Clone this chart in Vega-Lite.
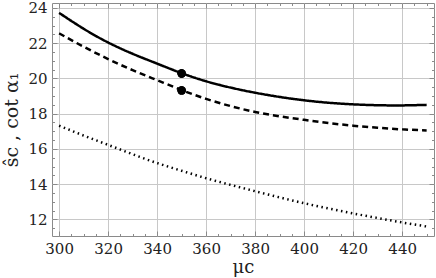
{
  "$schema": "https://vega.github.io/schema/vega-lite/v6.json",
  "width": 382,
  "height": 233,
  "autosize": {"type": "none"},
  "padding": {"left": 52, "top": 3, "right": 2, "bottom": 42},
  "background": "white",
  "config": {
    "font": "DejaVu Serif",
    "view": {"stroke": "#8a8a8a", "strokeWidth": 1},
    "axis": {
      "labelColor": "#222222",
      "titleColor": "#222222",
      "titleFontWeight": "normal",
      "domain": false,
      "tickColor": "#8a8a8a",
      "gridColor": "#c8c8c8",
      "gridWidth": 1
    }
  },
  "datasets": {
    "curves": [
      {"mu": 300, "v": 23.72, "s": "solid"},
      {"mu": 310, "v": 22.82, "s": "solid"},
      {"mu": 320, "v": 22.04, "s": "solid"},
      {"mu": 330, "v": 21.4, "s": "solid"},
      {"mu": 340, "v": 20.84, "s": "solid"},
      {"mu": 350, "v": 20.3, "s": "solid"},
      {"mu": 360, "v": 19.84, "s": "solid"},
      {"mu": 370, "v": 19.48, "s": "solid"},
      {"mu": 380, "v": 19.19, "s": "solid"},
      {"mu": 390, "v": 18.95, "s": "solid"},
      {"mu": 400, "v": 18.76, "s": "solid"},
      {"mu": 410, "v": 18.62, "s": "solid"},
      {"mu": 420, "v": 18.53, "s": "solid"},
      {"mu": 430, "v": 18.48, "s": "solid"},
      {"mu": 440, "v": 18.47, "s": "solid"},
      {"mu": 450, "v": 18.5, "s": "solid"},
      {"mu": 300, "v": 22.56, "s": "dashed"},
      {"mu": 310, "v": 21.8, "s": "dashed"},
      {"mu": 320, "v": 21.1, "s": "dashed"},
      {"mu": 330, "v": 20.47, "s": "dashed"},
      {"mu": 340, "v": 19.9, "s": "dashed"},
      {"mu": 350, "v": 19.34, "s": "dashed"},
      {"mu": 360, "v": 18.84, "s": "dashed"},
      {"mu": 370, "v": 18.43, "s": "dashed"},
      {"mu": 380, "v": 18.1, "s": "dashed"},
      {"mu": 390, "v": 17.85, "s": "dashed"},
      {"mu": 400, "v": 17.65, "s": "dashed"},
      {"mu": 410, "v": 17.47, "s": "dashed"},
      {"mu": 420, "v": 17.32, "s": "dashed"},
      {"mu": 430, "v": 17.2, "s": "dashed"},
      {"mu": 440, "v": 17.11, "s": "dashed"},
      {"mu": 450, "v": 17.05, "s": "dashed"},
      {"mu": 300, "v": 17.32, "s": "dotted"},
      {"mu": 310, "v": 16.76, "s": "dotted"},
      {"mu": 320, "v": 16.23, "s": "dotted"},
      {"mu": 330, "v": 15.7, "s": "dotted"},
      {"mu": 340, "v": 15.2, "s": "dotted"},
      {"mu": 350, "v": 14.76, "s": "dotted"},
      {"mu": 360, "v": 14.34, "s": "dotted"},
      {"mu": 370, "v": 13.96, "s": "dotted"},
      {"mu": 380, "v": 13.6, "s": "dotted"},
      {"mu": 390, "v": 13.25, "s": "dotted"},
      {"mu": 400, "v": 12.92, "s": "dotted"},
      {"mu": 410, "v": 12.62, "s": "dotted"},
      {"mu": 420, "v": 12.34, "s": "dotted"},
      {"mu": 430, "v": 12.08, "s": "dotted"},
      {"mu": 440, "v": 11.83, "s": "dotted"},
      {"mu": 450, "v": 11.6, "s": "dotted"}
    ],
    "pts": [
      {"mu": 350, "v": 20.28},
      {"mu": 350, "v": 19.32}
    ]
  },
  "layer": [
    {
      "data": {"name": "curves"},
      "mark": {"type": "line", "color": "black", "interpolate": "natural"},
      "encoding": {
        "x": {
          "field": "mu", "type": "quantitative",
          "scale": {"domain": [297.1, 453], "nice": false, "zero": false},
          "axis": {
            "orient": "bottom",
            "values": [300, 320, 340, 360, 380, 400, 420, 440],
            "grid": true, "tickSize": -5, "labelPadding": 10,
            "labelFont": "DejaVu Serif", "labelFontSize": 15,
            "title": "μc", "titleFont": "DejaVu Serif", "titleFontSize": 18, "titlePadding": 2
          }
        },
        "y": {
          "field": "v", "type": "quantitative",
          "scale": {"domain": [11.06, 24.28], "nice": false, "zero": false},
          "axis": {
            "orient": "left",
            "values": [12, 14, 16, 18, 20, 22, 24],
            "grid": true, "tickSize": -5, "labelPadding": 10,
            "labelFont": "DejaVu Serif", "labelFontSize": 15,
            "title": "ŝc ,  cot α₁", "titleFont": "DejaVu Serif", "titleFontSize": 19, "titlePadding": 6
          }
        },
        "strokeDash": {
          "field": "s", "type": "nominal",
          "scale": {"domain": ["solid", "dashed", "dotted"], "range": [[1, 0], [6, 4], [1.5, 3.5]]},
          "legend": null
        },
        "strokeWidth": {
          "field": "s", "type": "nominal",
          "scale": {"domain": ["solid", "dashed", "dotted"], "range": [2.5, 2.5, 2]},
          "legend": null
        }
      }
    },
    {
      "data": {"name": "pts"},
      "mark": {"type": "point", "filled": true, "color": "black", "opacity": 1, "size": 70},
      "encoding": {
        "x": {
          "field": "mu", "type": "quantitative",
          "axis": {"orient": "top", "values": [300, 320, 340, 360, 380, 400, 420, 440], "grid": false, "labels": false, "tickSize": -5, "title": null}
        },
        "y": {
          "field": "v", "type": "quantitative",
          "axis": {"orient": "right", "values": [12, 14, 16, 18, 20, 22, 24], "grid": false, "labels": false, "tickSize": -5, "title": null}
        }
      }
    },
    {
      "data": {"name": "pts"},
      "mark": {"type": "point", "filled": true, "color": "black", "opacity": 1, "size": 70},
      "encoding": {
        "x": {
          "field": "mu", "type": "quantitative",
          "axis": {"orient": "bottom", "values": [300, 305, 310, 315, 325, 330, 335, 345, 350, 355, 365, 370, 375, 385, 390, 395, 405, 410, 415, 425, 430, 435, 445, 450], "grid": false, "labels": false, "tickSize": -2.5, "title": null}
        },
        "y": {
          "field": "v", "type": "quantitative",
          "axis": {"orient": "left", "values": [11.5, 12.5, 13, 13.5, 14.5, 15, 15.5, 16.5, 17, 17.5, 18.5, 19, 19.5, 20.5, 21, 21.5, 22.5, 23, 23.5], "grid": false, "labels": false, "tickSize": -2.5, "title": null}
        }
      }
    },
    {
      "data": {"name": "pts"},
      "mark": {"type": "point", "filled": true, "color": "black", "opacity": 1, "size": 70},
      "encoding": {
        "x": {
          "field": "mu", "type": "quantitative",
          "axis": {"orient": "top", "values": [300, 305, 310, 315, 325, 330, 335, 345, 350, 355, 365, 370, 375, 385, 390, 395, 405, 410, 415, 425, 430, 435, 445, 450], "grid": false, "labels": false, "tickSize": -2.5, "title": null}
        },
        "y": {
          "field": "v", "type": "quantitative",
          "axis": {"orient": "right", "values": [11.5, 12.5, 13, 13.5, 14.5, 15, 15.5, 16.5, 17, 17.5, 18.5, 19, 19.5, 20.5, 21, 21.5, 22.5, 23, 23.5], "grid": false, "labels": false, "tickSize": -2.5, "title": null}
        }
      }
    }
  ],
  "resolve": {"axis": {"x": "independent", "y": "independent"}}
}
